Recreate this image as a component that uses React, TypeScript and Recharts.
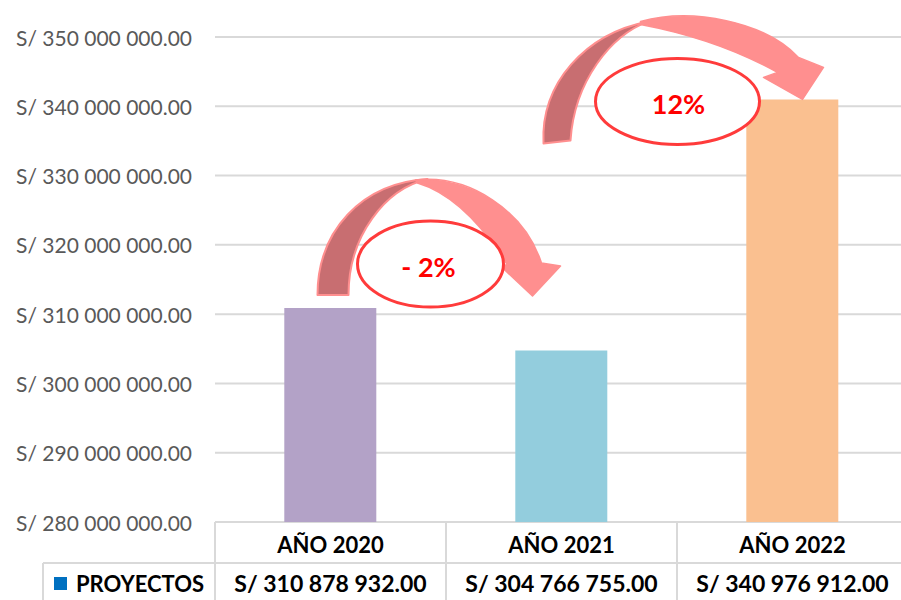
import { BarChart, Bar, XAxis, YAxis, CartesianGrid, Cell, ReferenceDot } from 'recharts';

const categories = ['AÑO 2020', 'AÑO 2021', 'AÑO 2022'];
const proyectos = [310878932.0, 304766755.0, 340976912.0];
const yTicks = [280000000, 290000000, 300000000, 310000000, 320000000, 330000000, 340000000, 350000000];
const seriesName = 'PROYECTOS';
const changes = ['- 2%', '12%'];

const barColors = ['#b3a2c7', '#93cddd', '#fac090'];

const CHART_W = 910;
const CHART_H = 600;
const Y_W = 215;
const M_RIGHT = 2;
const BAND = (CHART_W - Y_W - M_RIGHT) / categories.length;
const FONT = 'Lato, "Open Sans", sans-serif';
const GRID = '#d9d9d9';

const money = (n: number) =>
  'S/ ' + Math.floor(n).toString().replace(/\B(?=(\d{3})+(?!\d))/g, ' ') + '.' + Math.round((n % 1) * 100).toString().padStart(2, '0');

const chartData = categories.map((c, i) => ({ name: c, value: proyectos[i] }));

// table under the plot, drawn from the x axis ticks
const TableTick = (props: any) => {
  const { x, y, payload, index } = props;
  const left = x - BAND / 2;
  const right = x + BAND / 2;
  return (
    <g>
      <line x1={left} y1={y} x2={left} y2={y + 90} stroke={GRID} strokeWidth={2} />
      {index === categories.length - 1 && (
        <line x1={right} y1={y} x2={right} y2={y + 90} stroke={GRID} strokeWidth={2} />
      )}
      <line x1={left} y1={y + 41} x2={right} y2={y + 41} stroke={GRID} strokeWidth={2} />
      <text x={x} y={y + 22} textAnchor="middle" dominantBaseline="central" fontFamily={FONT} fontWeight={700} fontSize={22} fill="#000">
        {payload.value}
      </text>
      <text x={x} y={y + 61} textAnchor="middle" dominantBaseline="central" fontFamily={FONT} fontWeight={700} fontSize={23} fill="#000">
        {money(proyectos[index])}
      </text>
      {index === 0 && (
        <g>
          <line x1={left - 172} y1={y + 41} x2={left} y2={y + 41} stroke={GRID} strokeWidth={2} />
          <line x1={left - 172} y1={y + 41} x2={left - 172} y2={y + 90} stroke={GRID} strokeWidth={2} />
          <rect x={left - 161} y={y + 55} width={13} height={13} fill="#0070c0" />
          <text x={left - 139} y={y + 61} dominantBaseline="central" fontFamily={FONT} fontWeight={700} fontSize={22} fill="#000">
            {seriesName}
          </text>
        </g>
      )}
    </g>
  );
};

const YTick = (props: any) => {
  const { x, y, payload } = props;
  return (
    <text x={x} y={y} textAnchor="end" dominantBaseline="central" fontFamily={FONT} fontSize={21} fill="#595959">
      {money(payload.value)}
    </text>
  );
};

// curved arrow + ellipse callouts; paths are in the reference frame of the anchor bar top
const arrowShapes = [
  {
    ax: 331, ay: 309,
    dark: 'M318,296 C318,232 362,184 428,180 C386,190 349,236 349,296 Z',
    light: 'M416,181 C470,175 525,212 542,264 L561,267 L533,297 L500,266 L508,266 C484,228 455,195 418,184 Z',
    cx: 431, cy: 265, rx: 73, ry: 43, tx: 429, ty: 267,
  },
  {
    ax: 561, ay: 351,
    dark: 'M543,144 C540,84 585,34 648,22 C610,36 574,82 570,141 Z',
    light: 'M640,22 C692,8 764,22 798,58 L823,68 L802,100 L763,78 L777,73 C745,55 698,36 640,25 Z',
    cx: 677, cy: 102, rx: 82, ry: 43, tx: 678, ty: 104,
  },
];

const Callout = (i: number) => (props: any) => {
  const s = arrowShapes[i];
  const dx = props.cx - s.ax;
  const dy = props.cy - s.ay;
  return (
    <g transform={`translate(${dx},${dy})`}>
      <path d={s.dark} fill="#c86e71" stroke="#ff8f8f" strokeWidth={2} strokeLinejoin="round" />
      <path d={s.light} fill="#ff8f8f" stroke="#ff8f8f" strokeWidth={1.5} strokeLinejoin="round" />
      <ellipse cx={s.cx} cy={s.cy} rx={s.rx} ry={s.ry} fill="#fff" stroke="#ff3b3b" strokeWidth={3} />
      <text x={s.tx} y={s.ty} textAnchor="middle" dominantBaseline="central" fontFamily={FONT} fontWeight={700} fontSize={27} fill="#ff0000">
        {changes[i]}
      </text>
    </g>
  );
};

export default function App() {
  return (
    <div style={{ position: 'fixed', left: 0, top: 0, width: 901, height: 600, overflow: 'hidden', background: '#fff' }}>
      <BarChart
        width={CHART_W}
        height={CHART_H}
        data={chartData}
        margin={{ top: 37, right: M_RIGHT, left: 0, bottom: 0 }}
        barCategoryGap="30%"
      >
        <CartesianGrid vertical={false} stroke={GRID} strokeWidth={2} />
        <YAxis
          width={Y_W}
          domain={[280000000, 350000000]}
          ticks={yTicks}
          axisLine={false}
          tickLine={false}
          tickSize={0}
          tickMargin={23}
          tick={<YTick />}
          interval={0}
        />
        <XAxis
          dataKey="name"
          height={78}
          axisLine={false}
          tickLine={false}
          tickSize={0}
          tickMargin={0}
          tick={<TableTick />}
          interval={0}
        />
        {changes.map((c, i) => (
          <ReferenceDot key={c} x={categories[i]} y={proyectos[i]} r={1} shape={Callout(i)} />
        ))}
        <Bar dataKey="value" isAnimationActive={false}>
          {chartData.map((d, i) => (
            <Cell key={d.name} fill={barColors[i]} />
          ))}
        </Bar>
      </BarChart>
    </div>
  );
}
